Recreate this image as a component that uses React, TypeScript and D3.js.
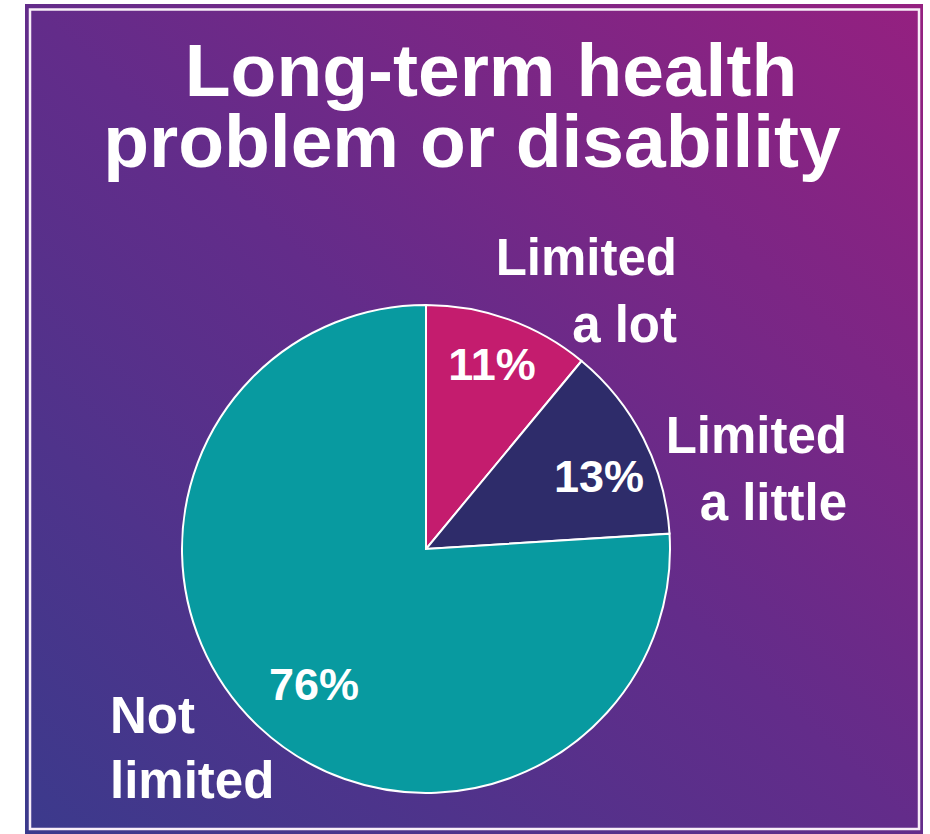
import React from "react";
import * as d3 from "d3";

const categories = ["Limited a lot", "Limited a little", "Not limited"];
const values = [11, 13, 76];
const valueLabels = ["11%", "13%", "76%"];
const sliceColors = ["#C41C6E", "#2E2C6A", "#089AA0"];
const titleLines = ["Long-term health", "problem or disability"];

const W = 930;
const H = 834;
const cx = 426;
const cy = 549;
const R = 244;

export default function App() {
  const pie = d3
    .pie<number>()
    .sort(null)
    .value((d) => d)
    .startAngle(0)
    .endAngle(2 * Math.PI);
  const arcs = pie(values);
  const arcGen = d3.arc<d3.PieArcDatum<number>>().innerRadius(0).outerRadius(R);

  const font = "'Liberation Sans', Arial, sans-serif";

  const pctPos: [number, number][] = [
    [492, 380],
    [599, 492],
    [314, 700],
  ];

  return (
    <svg
      width={W}
      height={H}
      style={{ position: "absolute", left: 0, top: 0 }}
      fontFamily={font}
    >
      <defs>
        <linearGradient id="bg" x1="0" y1="1" x2="1" y2="0">
          <stop offset="0" stopColor="#3B3A8C" />
          <stop offset="0.5" stopColor="#632C8A" />
          <stop offset="1" stopColor="#952080" />
        </linearGradient>
      </defs>
      <rect x={0} y={0} width={W} height={H} fill="#ffffff" />
      <rect x={25} y={4} width={898} height={834} fill="url(#bg)" />
      <rect
        x={30}
        y={9.5}
        width={889}
        height={819.5}
        fill="none"
        stroke="#F8EEF8"
        strokeWidth={2.5}
      />

      {titleLines.map((t, i) => (
        <text
          key={t}
          x={i === 0 ? 491 : 472}
          y={i === 0 ? 96 : 167}
          textAnchor="middle"
          fontSize={75}
          fontWeight="bold"
          fill="#ffffff"
        >
          {t}
        </text>
      ))}

      <g transform={`translate(${cx},${cy})`}>
        {arcs.map((a, i) => (
          <path
            key={categories[i]}
            d={arcGen(a) || ""}
            fill={sliceColors[i]}
            stroke="#ffffff"
            strokeWidth={2}
          />
        ))}
      </g>

      {valueLabels.map((l, i) => (
        <text
          key={l}
          x={pctPos[i][0]}
          y={pctPos[i][1]}
          textAnchor="middle"
          fontSize={45}
          fontWeight="bold"
          fill="#ffffff"
        >
          {l}
        </text>
      ))}

      <g fontSize={51} fontWeight="bold" fill="#ffffff">
        <text x={677} y={275} textAnchor="end">Limited</text>
        <text x={677} y={342} textAnchor="end">a lot</text>
        <text x={847} y={453} textAnchor="end">Limited</text>
        <text x={847} y={520} textAnchor="end">a little</text>
        <text x={110} y={733} textAnchor="start">Not</text>
        <text x={110} y={798} textAnchor="start">limited</text>
      </g>
    </svg>
  );
}
